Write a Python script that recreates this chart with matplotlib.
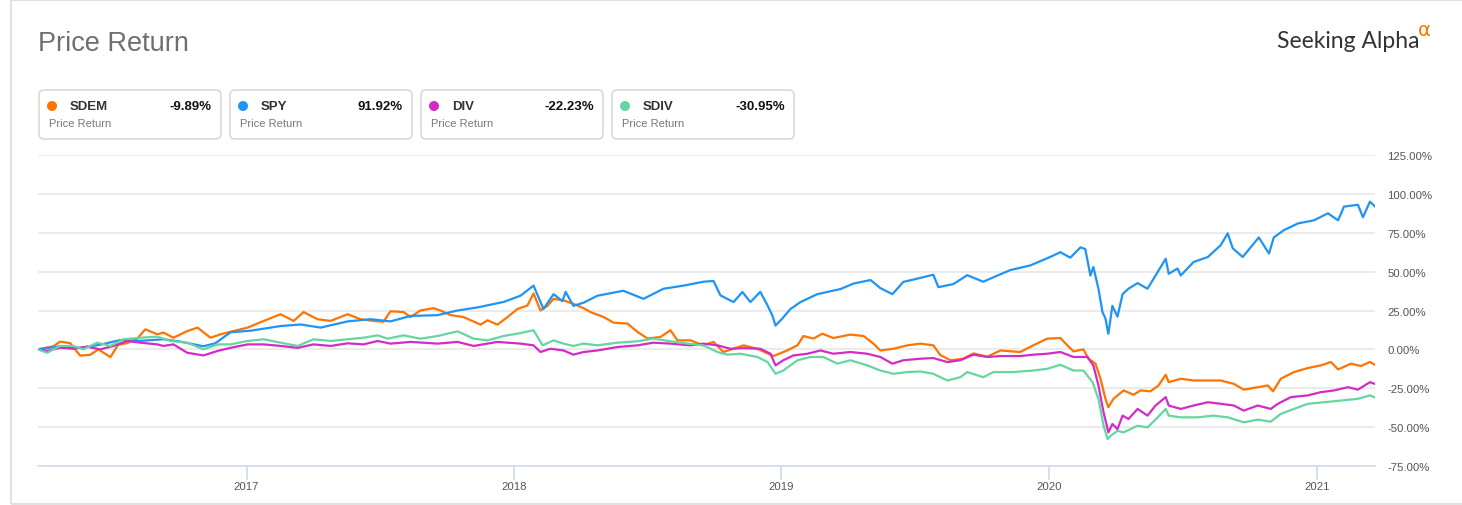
import matplotlib
matplotlib.use("Agg")
import matplotlib.pyplot as plt
import matplotlib.dates as mdates
from matplotlib.patches import FancyBboxPatch, Rectangle, Circle
from matplotlib.transforms import IdentityTransform
from matplotlib.ticker import FixedLocator, FuncFormatter
from datetime import datetime

# ---------------- data ----------------
tickers = ["SDEM", "SPY", "DIV", "SDIV"]
final_returns = ["-9.89%", "91.92%", "-22.23%", "-30.95%"]
y_ticks = [-75, -50, -25, 0, 25, 50, 75, 100, 125]
x_tick_years = [2017, 2018, 2019, 2020, 2021]

# decimal-year dates and percent returns
spy_t = [2016.222, 2016.305, 2016.379, 2016.454, 2016.529, 2016.604, 2016.690, 2016.753, 2016.839, 2016.884,
         2016.940, 2017.015, 2017.127, 2017.202, 2017.277, 2017.378, 2017.464, 2017.538, 2017.613, 2017.714,
         2017.789, 2017.864, 2017.961, 2018.024, 2018.073, 2018.099, 2018.110, 2018.148, 2018.181, 2018.193,
         2018.222, 2018.260, 2018.312, 2018.409, 2018.484, 2018.559, 2018.634, 2018.708, 2018.746, 2018.772,
         2018.821, 2018.854, 2018.884, 2018.921, 2018.948, 2018.966, 2018.978, 2019.004, 2019.034, 2019.071,
         2019.134, 2019.221, 2019.269, 2019.333, 2019.370, 2019.415, 2019.456, 2019.508, 2019.568, 2019.587,
         2019.643, 2019.695, 2019.755, 2019.781, 2019.856, 2019.931, 2020.006, 2020.043, 2020.080, 2020.118,
         2020.136, 2020.155, 2020.166, 2020.185, 2020.200, 2020.211, 2020.222, 2020.237, 2020.256, 2020.275,
         2020.297, 2020.331, 2020.368, 2020.398, 2020.436, 2020.447, 2020.480, 2020.492, 2020.540, 2020.593,
         2020.641, 2020.667, 2020.686, 2020.723, 2020.764, 2020.783, 2020.821, 2020.839, 2020.877, 2020.929,
         2020.989, 2021.041, 2021.079, 2021.101, 2021.153, 2021.172, 2021.198, 2021.217]
spy_v = [0, 2, 1, 3, 6, 5.5, 6.5, 5, 2, 4,
         11, 12, 15, 16, 14, 18, 19.4, 18, 21.5, 22,
         25, 27, 30.5, 34.5, 41, 30.5, 26, 35.5, 31, 37,
         28, 30, 34.5, 37.7, 32.5, 39, 41, 43.5, 44, 34.7,
         30.4, 36.9, 30.4, 37, 28.3, 21.8, 15.3, 20, 26, 30.4,
         35.5, 38.8, 42.3, 44.6, 39.4, 35.5, 43.4, 45.5, 48, 40,
         42, 47.7, 43.5, 45.5, 51, 54, 59.5, 62.5, 59, 65.6,
         64.5, 47.5, 53, 39, 24, 20, 10, 28, 21, 35.5,
         39, 42.6, 39, 47.5, 58.3, 48.6, 52, 47.5, 56.2, 59.4,
         67, 74.6, 65, 59.4, 68, 72, 61.6, 72, 76.7, 81,
         83, 87.5, 83, 91.8, 93, 85, 95, 91.92]

sdem_t = [2016.222, 2016.279, 2016.305, 2016.342, 2016.379, 2016.417, 2016.447, 2016.492, 2016.521, 2016.555,
          2016.593, 2016.622, 2016.667, 2016.690, 2016.727, 2016.779, 2016.817, 2016.865, 2016.903, 2016.951,
          2017.004, 2017.064, 2017.127, 2017.176, 2017.213, 2017.265, 2017.314, 2017.378, 2017.426, 2017.475,
          2017.512, 2017.538, 2017.587, 2017.613, 2017.650, 2017.699, 2017.725, 2017.763, 2017.811, 2017.875,
          2017.901, 2017.938, 2017.976, 2018.013, 2018.050, 2018.073, 2018.099, 2018.125, 2018.148, 2018.185,
          2018.222, 2018.260, 2018.286, 2018.335, 2018.372, 2018.424, 2018.462, 2018.499, 2018.548, 2018.585,
          2018.611, 2018.660, 2018.708, 2018.746, 2018.783, 2018.821, 2018.858, 2018.910, 2018.970, 2019.022,
          2019.060, 2019.082, 2019.120, 2019.153, 2019.194, 2019.258, 2019.307, 2019.344, 2019.370, 2019.419,
          2019.471, 2019.520, 2019.568, 2019.594, 2019.632, 2019.680, 2019.718, 2019.770, 2019.819, 2019.893,
          2019.942, 2019.994, 2020.043, 2020.069, 2020.092, 2020.129, 2020.148, 2020.174, 2020.193, 2020.211,
          2020.222, 2020.241, 2020.279, 2020.316, 2020.342, 2020.379, 2020.409, 2020.436, 2020.447, 2020.492,
          2020.540, 2020.593, 2020.641, 2020.690, 2020.727, 2020.779, 2020.817, 2020.836, 2020.865, 2020.914,
          2020.966, 2021.015, 2021.052, 2021.079, 2021.127, 2021.164, 2021.198, 2021.217]
sdem_v = [0, 2, 5, 4, -4, -3.5, 0, -5, 3, 4,
          7, 12.9, 9.7, 10.8, 7.5, 11.8, 14, 7.5, 9.7, 11.8,
          14, 18.3, 22.6, 18.3, 24, 19.4, 18.3, 22.6, 19.4, 18.3,
          17.8, 24.5, 24, 20.8, 25, 26.5, 25, 22, 20.8, 15.9,
          18.7, 15.9, 20.8, 26, 28.2, 36, 25, 28, 32.5, 31.5,
          29.3, 26.5, 24, 20.8, 17.2, 16.6, 11.2, 7, 8, 12.3,
          5.8, 5.8, 2.6, 4.8, -1.7, 0.4, 2.6, 0.4, -4.3, -0.7,
          2.6, 8.6, 6.9, 10.1, 7.3, 9.5, 8.6, 3.7, -0.7, 0.4,
          2.6, 3.7, 2.6, -3.6, -7, -6, -2.6, -4.7, -0.7, -1.7,
          2.6, 6.9, 7.3, 2.6, -1.3, 0, -6, -9.2, -18.9, -31.8,
          -37.2, -31.8, -26.4, -29.2, -26.4, -27, -23.2, -16.3, -21.1, -18.9,
          -20, -20, -20, -22.2, -25.9, -24.3, -23.2, -27, -18.9, -14.6,
          -12, -10.3, -8.1, -12.9, -9.2, -10.7, -8.1, -9.89]

div_t = [2016.222, 2016.256, 2016.305, 2016.353, 2016.406, 2016.454, 2016.503, 2016.555, 2016.604, 2016.667,
         2016.690, 2016.727, 2016.779, 2016.839, 2016.892, 2016.940, 2017.004, 2017.064, 2017.127, 2017.191,
         2017.250, 2017.314, 2017.378, 2017.437, 2017.490, 2017.538, 2017.613, 2017.714, 2017.789, 2017.849,
         2017.938, 2018.024, 2018.073, 2018.099, 2018.136, 2018.185, 2018.222, 2018.260, 2018.312, 2018.387,
         2018.462, 2018.521, 2018.585, 2018.660, 2018.708, 2018.761, 2018.809, 2018.858, 2018.921, 2018.959,
         2018.978, 2019.007, 2019.045, 2019.097, 2019.146, 2019.194, 2019.258, 2019.321, 2019.370, 2019.415,
         2019.456, 2019.520, 2019.568, 2019.621, 2019.669, 2019.718, 2019.770, 2019.819, 2019.893, 2019.942,
         2019.994, 2020.043, 2020.092, 2020.144, 2020.166, 2020.185, 2020.204, 2020.222, 2020.237, 2020.256,
         2020.275, 2020.297, 2020.331, 2020.368, 2020.398, 2020.436, 2020.447, 2020.492, 2020.540, 2020.593,
         2020.641, 2020.690, 2020.727, 2020.779, 2020.828, 2020.854, 2020.903, 2020.966, 2021.015, 2021.064,
         2021.116, 2021.153, 2021.198, 2021.217]
div_v = [0, -1, 1, 0.4, 1.7, 0, 2.2, 5.4, 4.3, 3.2,
         2.2, 3.2, -2.2, -3.9, -1, 1, 3.2, 3.2, 2.2, 1,
         3.2, 2.2, 3.9, 3.2, 5.4, 3.7, 4.8, 3.7, 4.8, 2.2,
         4.8, 3.7, 2.6, -1.7, 0.4, -0.7, -3.4, -1.7, -0.7, 1.5,
         2.6, 4.3, 3.7, 2.6, 3.7, 2.6, 0.4, 0.8, 0.4, -2.8,
         -10.3, -7, -3.9, -2.8, -0.7, -2.8, -1.7, -2.8, -4.9, -9.2,
         -7, -6, -5.6, -8.2, -7, -3.4, -4.9, -4.3, -4.3, -3.4,
         -2.8, -1.7, -4.9, -4.9, -10.3, -23.2, -40.4, -53.4, -48, -51.3,
         -42.6, -44.8, -38.3, -42.6, -36.1, -30.7, -36.1, -38.3, -36.1, -34,
         -35, -36.1, -39.4, -36.1, -38.3, -35, -30.7, -29.6, -27.5, -26.4,
         -24.3, -25.9, -21.1, -22.23]

sdiv_t = [2016.222, 2016.256, 2016.279, 2016.305, 2016.353, 2016.391, 2016.443, 2016.492, 2016.540, 2016.604,
          2016.667, 2016.716, 2016.779, 2016.839, 2016.892, 2016.940, 2017.004, 2017.064, 2017.127, 2017.191,
          2017.250, 2017.314, 2017.378, 2017.437, 2017.490, 2017.527, 2017.587, 2017.650, 2017.714, 2017.789,
          2017.849, 2017.901, 2017.961, 2018.013, 2018.073, 2018.107, 2018.148, 2018.185, 2018.222, 2018.260,
          2018.312, 2018.387, 2018.462, 2018.521, 2018.585, 2018.649, 2018.708, 2018.761, 2018.798, 2018.847,
          2018.910, 2018.948, 2018.978, 2019.007, 2019.060, 2019.108, 2019.157, 2019.209, 2019.258, 2019.321,
          2019.370, 2019.419, 2019.471, 2019.520, 2019.568, 2019.594, 2019.621, 2019.669, 2019.695, 2019.755,
          2019.793, 2019.867, 2019.942, 2019.994, 2020.043, 2020.092, 2020.129, 2020.163, 2020.185, 2020.204,
          2020.219, 2020.230, 2020.256, 2020.279, 2020.331, 2020.368, 2020.406, 2020.436, 2020.447, 2020.492,
          2020.555, 2020.615, 2020.667, 2020.727, 2020.779, 2020.828, 2020.865, 2020.914, 2020.966, 2021.026,
          2021.090, 2021.153, 2021.198, 2021.217]
sdiv_v = [0, -2.2, 0, 2.2, 2.2, 0, 4.3, 2.2, 6.5, 7.5,
          8.2, 5.4, 4.3, 0, 3.2, 3.2, 5.4, 6.5, 4.3, 2.2,
          6.5, 5.4, 6.5, 7.5, 9, 6.9, 9, 6.9, 8.6, 11.6,
          6.9, 5.8, 8.6, 10.1, 12.3, 2.6, 5.8, 3.7, 2.2, 3.7,
          2.6, 4.3, 5.2, 6.9, 5.2, 3.7, 2.6, -1.7, -3.4, -2.8,
          -4.9, -8.1, -15.7, -13.6, -7, -4.9, -4.9, -9.2, -7, -10.3,
          -13.6, -15.7, -14.6, -14.2, -15.7, -17.9, -20, -17.9, -14.6, -17.9,
          -14.6, -14.6, -13.6, -12.5, -9.9, -13.6, -13.6, -21.1, -31.8, -49,
          -57.7, -55.6, -52.4, -53.4, -49.1, -50.2, -43.7, -38.3, -42.6, -43.7,
          -43.7, -42.6, -43.7, -46.9, -45.2, -46.5, -41.5, -38.3, -35, -34,
          -32.9, -31.8, -29.6, -30.95]

# ---------------- styling ----------------
colors = ["#ff7300", "#1f94f5", "#d42ac6", "#65d6a0"]
W, H = 1462, 506
plt.rcParams["font.family"] = ["Liberation Sans", "DejaVu Sans"]


def dec2dt(t):
    y = int(t)
    start, end = datetime(y, 1, 1), datetime(y + 1, 1, 1)
    return start + (end - start) * (t - y)


fig = plt.figure(figsize=(W / 100, H / 100), dpi=100)
fig.patch.set_facecolor("white")
ID = IdentityTransform()


def P(x, y):
    return (x, H - y)


# outer frame
fig.add_artist(Rectangle(P(11, 505), 1480, 504, transform=ID, fill=False,
                         edgecolor="#dcdcdc", linewidth=1.2))

# title
fig.text(38 / W, 1 - 44 / H, "Price Return", fontsize=19.5, color="#6f6f6f",
         ha="left", va="center")

# Seeking Alpha logo
fig.text(1277 / W, 1 - 42 / H, "Seeking Alpha", fontsize=16.5, color="#333333",
         ha="left", va="center", family=["Lato", "DejaVu Sans"])
fig.text(1418 / W, 1 - 31 / H, "α", fontsize=14, color="#f57c00",
         ha="left", va="center", family=["DejaVu Sans"])

# legend boxes
for i, (name, ret, col) in enumerate(zip(tickers, final_returns, colors)):
    x0 = 39 + i * 191
    fig.add_artist(FancyBboxPatch(P(x0, 140), 182, 49, transform=ID,
                                  boxstyle="round,pad=0,rounding_size=5",
                                  facecolor="white", edgecolor="#d6d6d6", linewidth=1.1))
    fig.add_artist(Circle(P(x0 + 13, 107), 5, transform=ID, facecolor=col, edgecolor="none"))
    fig.text((x0 + 31) / W, 1 - 107 / H, name, fontsize=9.5, fontweight="bold",
             color="#333333", ha="left", va="center")
    fig.text((x0 + 173) / W, 1 - 107 / H, ret, fontsize=9.5, fontweight="bold",
             color="#111111", ha="right", va="center")
    fig.text((x0 + 10) / W, 1 - 124 / H, "Price Return", fontsize=8, color="#777777",
             ha="left", va="center")

# plot area
ax = fig.add_axes([38 / W, 1 - 467 / H, (1375 - 38) / W, (467 - 156) / H])
ax.set_facecolor("none")
series = [(sdem_t, sdem_v), (spy_t, spy_v), (div_t, div_v), (sdiv_t, sdiv_v)]
for (t, v), col in zip(series, colors):
    ax.plot([dec2dt(a) for a in t], v, color=col, linewidth=1.6, solid_joinstyle="round")

ax.set_xlim(dec2dt(spy_t[0]), dec2dt(spy_t[-1]))
ax.set_ylim(y_ticks[0], y_ticks[-1])
for yv in y_ticks[1:]:
    ax.axhline(yv, color="#e6e6e6", linewidth=1.1, zorder=0)

for s in ["top", "right", "left"]:
    ax.spines[s].set_visible(False)
ax.spines["bottom"].set_color("#ccd6eb")
ax.spines["bottom"].set_linewidth(1.1)

ax.xaxis.set_major_locator(FixedLocator([mdates.date2num(datetime(y, 1, 1)) for y in x_tick_years]))
ax.xaxis.set_major_formatter(FuncFormatter(lambda v, p: str(mdates.num2date(v).year)))
ax.tick_params(axis="x", length=10, width=1.1, color="#ccd6eb", labelsize=8.2,
               labelcolor="#555555", pad=1)

ax.yaxis.set_major_locator(FixedLocator(y_ticks))
ax.yaxis.set_major_formatter(FuncFormatter(lambda v, p: f"{v:.2f}%"))
ax.yaxis.tick_right()
ax.tick_params(axis="y", length=0, labelsize=8.2, labelcolor="#555555", pad=9)

fig.savefig("out.png", dpi=100)
